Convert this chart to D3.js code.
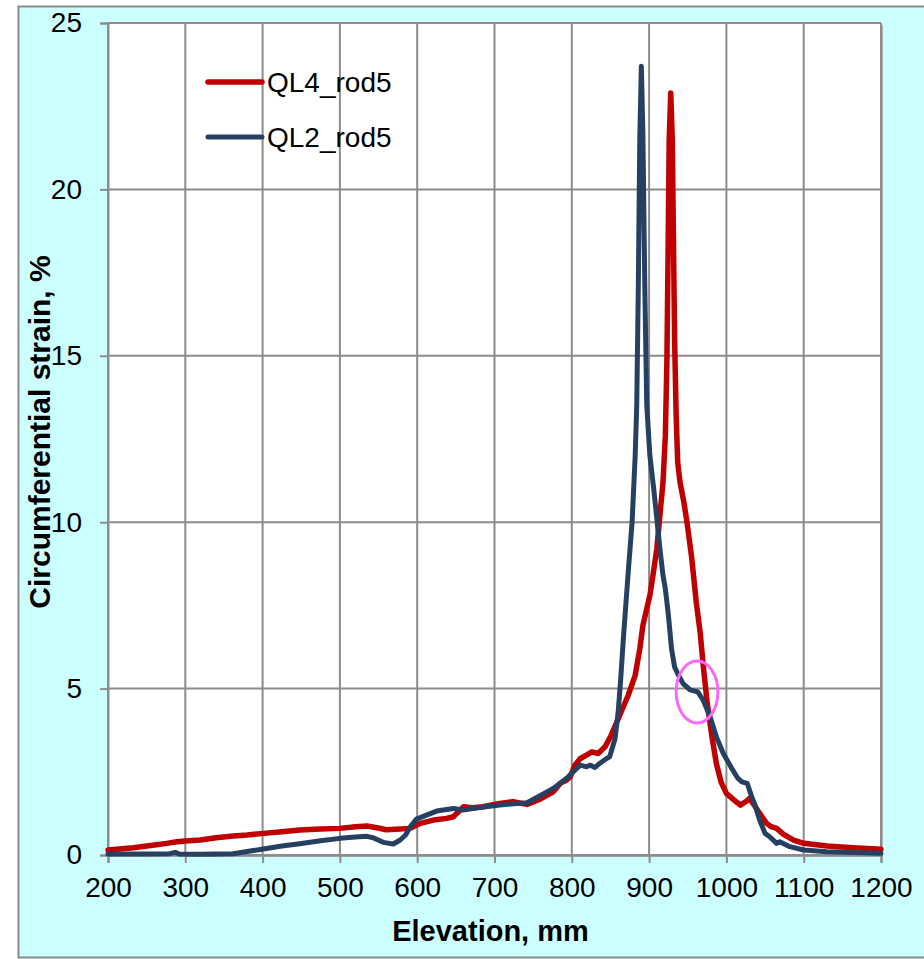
<!DOCTYPE html>
<html>
<head>
<meta charset="utf-8">
<script src="https://cdn.jsdelivr.net/npm/d3@7"></script>
<style>
  html, body { margin: 0; padding: 0; background: #ffffff; }
  svg { display: block; font-family: Arial, "Liberation Sans", sans-serif; }
</style>
</head>
<body>
<svg id="chart"></svg>
<script>
// series names and colours
const seriesNames = ["QL4_rod5", "QL2_rod5"];
const seriesColors = ["#c00000", "#254061"];

// QL4_rod5 : [elevation mm, circumferential strain %]
const ql4Elev = [200, 233, 260, 276, 289, 300, 319, 340, 362, 380, 401, 425, 448, 475, 500, 520, 535, 548, 560, 578, 591, 604, 621, 638, 647, 651, 660, 672, 685, 707, 724, 742, 759, 776, 785, 793, 798, 804, 811, 819, 826, 834,
  843, 851, 862, 873, 882, 888, 892, 897, 901, 905, 910, 914, 918, 921, 923, 924.5, 926, 928, 930, 931.5, 933, 935, 937, 940, 945, 949, 955, 961, 966, 970, 975, 981, 987, 993, 1000, 1010, 1018, 1025, 1030, 1036, 1043, 1052, 1058, 1065, 1074, 1087, 1100, 1130, 1164, 1200];
const ql4Strain = [0.15, 0.22, 0.3, 0.35, 0.4, 0.42, 0.45, 0.52, 0.57, 0.6, 0.65, 0.7, 0.75, 0.78, 0.8, 0.85, 0.87, 0.82, 0.76, 0.78, 0.8, 0.95, 1.05, 1.1, 1.15, 1.25, 1.45, 1.42, 1.45, 1.55, 1.6, 1.52, 1.68, 1.9, 2.15, 2.25, 2.35, 2.7, 2.9, 3.0, 3.1, 3.05,
  3.25, 3.6, 4.2, 4.8, 5.4, 6.2, 6.9, 7.4, 7.8, 8.4, 9.2, 10.2, 11.2, 12.6, 14.8, 18.0, 21.5, 22.9, 21.5, 18.5, 15.5, 13.2, 11.8, 11.2, 10.6, 10.0, 8.95, 7.6, 6.7, 5.7, 4.6, 3.6, 2.75, 2.2, 1.85, 1.65, 1.5, 1.6, 1.7, 1.5, 1.25, 0.95, 0.85, 0.8, 0.62, 0.45, 0.35, 0.27, 0.22, 0.17];

// QL2_rod5
const ql2Elev = [200, 250, 280, 287, 292, 319, 362, 384, 401, 425, 448, 475, 500, 520, 535, 543, 556, 569, 578, 585, 591, 599, 612, 625, 647, 659, 681, 707, 729, 742, 759, 776, 793, 802, 811, 819, 824, 830, 836,
  845, 849, 856, 860, 863, 867, 873, 878, 882, 884, 886, 888, 890, 892, 894.5, 897, 901, 906, 910, 914, 918, 921, 925, 929, 933, 938, 944, 953, 963, 970, 979, 987, 996, 1007, 1015, 1020, 1027, 1032, 1037, 1043, 1050, 1056, 1065, 1069, 1082, 1100, 1130, 1200];
const ql2Strain = [0.03, 0.03, 0.04, 0.08, 0.03, 0.02, 0.04, 0.12, 0.18, 0.27, 0.34, 0.43, 0.5, 0.54, 0.56, 0.52, 0.38, 0.33, 0.45, 0.6, 0.85, 1.08, 1.2, 1.32, 1.4, 1.35, 1.43, 1.5, 1.55, 1.57, 1.78, 2.0, 2.3, 2.5, 2.7, 2.65, 2.7, 2.63, 2.75,
  2.9, 2.95, 3.5, 4.3, 5.2, 6.6, 8.5, 10.0, 12.0, 13.5, 17.0, 21.6, 23.7, 21.6, 17.0, 13.5, 12.0, 11.0, 10.1, 9.2, 8.4, 8.0, 7.2, 6.2, 5.65, 5.4, 5.15, 4.96, 4.9, 4.65, 4.15, 3.55, 3.05, 2.6, 2.3, 2.2, 2.15, 1.8, 1.5, 1.05, 0.65, 0.55, 0.35, 0.4, 0.25, 0.15, 0.1, 0.05];

const xTicks = [200, 300, 400, 500, 600, 700, 800, 900, 1000, 1100, 1200];
const yTicks = [0, 5, 10, 15, 20, 25];

// highlighted region (ellipse) in data units
const markCenter = [962, 4.9];
const markRadius = [27, 0.93];

const W = 924, H = 959;
const margin = { left: 108, top: 23, right: 43, bottom: 104 };
const width = W - margin.left - margin.right;
const height = H - margin.top - margin.bottom;

const root = d3.select("#chart").attr("width", W).attr("height", H);

// outer chart frame
root.append("rect")
  .attr("x", 18.5).attr("y", 6.5)
  .attr("width", W).attr("height", 951)
  .attr("fill", "#ccffff")
  .attr("stroke", "#8c8c8c").attr("stroke-width", 2);

const svg = root.append("g")
  .attr("transform", `translate(${margin.left}, ${margin.top})`);

const x = d3.scaleLinear().domain([200, 1200]).range([0, width]);
const y = d3.scaleLinear().domain([0, 25]).range([height, 0]);

// plot area with shadow on the right
svg.append("rect")
  .attr("x", 2).attr("y", 2).attr("width", width).attr("height", height)
  .attr("fill", "#b0b0b0");
svg.append("rect")
  .attr("width", width).attr("height", height)
  .attr("fill", "#ffffff");

// grid
svg.append("g").selectAll("line.v")
  .data(xTicks)
  .enter().append("line")
  .attr("x1", d => x(d)).attr("x2", d => x(d))
  .attr("y1", 0).attr("y2", height)
  .attr("stroke", "#8c8c8c").attr("stroke-width", 2);
svg.append("g").selectAll("line.h")
  .data(yTicks)
  .enter().append("line")
  .attr("x1", 0).attr("x2", width)
  .attr("y1", d => y(d)).attr("y2", d => y(d))
  .attr("stroke", "#8c8c8c").attr("stroke-width", 2);

// axes
const xAxis = svg.append("g")
  .attr("transform", "translate(0," + height + ")")
  .call(d3.axisBottom(x).tickValues(xTicks).tickSize(8).tickPadding(14).tickFormat(d3.format("d")));
const yAxis = svg.append("g")
  .call(d3.axisLeft(y).tickValues(yTicks).tickSize(8).tickPadding(18).tickFormat(d3.format("d")));
[xAxis, yAxis].forEach(a => {
  a.select(".domain").attr("stroke", "#8c8c8c").attr("stroke-width", 2);
  a.selectAll(".tick line").attr("stroke", "#8c8c8c").attr("stroke-width", 2);
  a.selectAll(".tick text").attr("fill", "#000").style("font-size", "28px")
    .style("font-family", "Arial, 'Liberation Sans', sans-serif");
});

// series
const line = d3.line()
  .x(d => x(d[0]))
  .y(d => y(d[1]));

const series = [
  { name: seriesNames[0], color: seriesColors[0], width: 5.5, values: ql4Elev.map((e, i) => [e, ql4Strain[i]]) },
  { name: seriesNames[1], color: seriesColors[1], width: 5, values: ql2Elev.map((e, i) => [e, ql2Strain[i]]) }
];

series.forEach(s => {
  svg.append("path")
    .datum(s.values)
    .attr("d", line)
    .attr("fill", "none")
    .attr("stroke", s.color)
    .attr("stroke-width", s.width)
    .attr("stroke-linejoin", "round")
    .attr("stroke-linecap", "round");
});

// annotation ellipse
svg.append("ellipse")
  .attr("cx", x(markCenter[0])).attr("cy", y(markCenter[1]))
  .attr("rx", x(markCenter[0] + markRadius[0]) - x(markCenter[0]))
  .attr("ry", y(0) - y(markRadius[1]))
  .attr("fill", "none")
  .attr("stroke", "#ff66ff")
  .attr("stroke-width", 3);

// legend
const legend = svg.append("g").attr("transform", "translate(100, 59)");
series.forEach((s, i) => {
  const g = legend.append("g").attr("transform", `translate(0, ${i * 55})`);
  g.append("line")
    .attr("x1", 0).attr("x2", 54)
    .attr("stroke", s.color).attr("stroke-width", s.width)
    .attr("stroke-linecap", "round");
  g.append("text")
    .attr("x", 59).attr("y", 10)
    .style("font-size", "28px")
    .text(s.name);
});

// axis titles
svg.append("text")
  .attr("x", width / 2 - 4).attr("y", height + 86)
  .attr("text-anchor", "middle")
  .style("font-size", "29px").style("font-weight", "bold")
  .text("Elevation, mm");

svg.append("text")
  .attr("transform", `translate(-58, ${height / 2 - 7}) rotate(-90)`)
  .attr("text-anchor", "middle")
  .style("font-size", "30px").style("font-weight", "bold")
  .text("Circumferential strain, %");
</script>
</body>
</html>
